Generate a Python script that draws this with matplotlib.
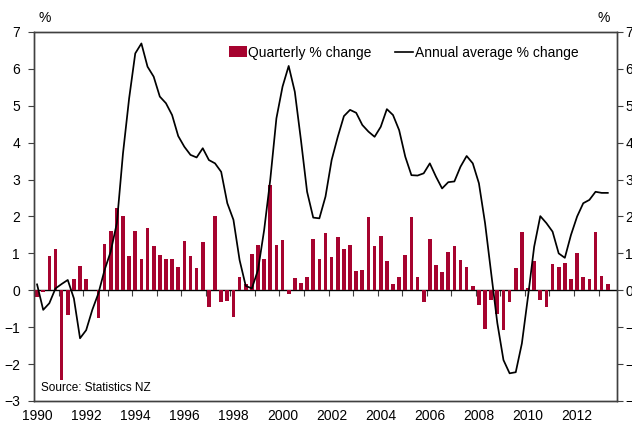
import numpy as np
import matplotlib.pyplot as plt
from matplotlib.patches import Patch
from matplotlib.lines import Line2D

plt.rcParams['font.family'] = ['Liberation Sans', 'DejaVu Sans']

# quarterly data, 1990Q1 .. 2013Q2
quarterly = [-0.17, -0.05, 0.93, 1.12, -2.43, -0.67, 0.31, 0.66, 0.31, 0.0,
             -0.76, 1.25, 1.61, 2.22, 2.01, 0.93, 1.61, 0.84, 1.70, 1.19,
             0.95, 0.84, 0.84, 0.62, 1.34, 0.93, 0.60, 1.31, -0.46, 2.01,
             -0.31, -0.28, -0.72, 0.36, 0.16, 0.98, 1.23, 0.86, 2.85, 1.23,
             1.36, -0.11, 0.34, 0.19, 0.36, 1.39, 0.84, 1.56, 0.89, 1.44,
             1.13, 1.23, 0.52, 0.56, 1.99, 1.19, 1.48, 0.79, 0.16, 0.36,
             0.96, 1.98, 0.37, -0.33, 1.38, 0.69, 0.50, 1.05, 1.20, 0.82,
             0.63, 0.12, -0.39, -1.04, -0.25, -0.64, -1.07, -0.33, 0.61, 1.58,
             0.06, 0.79, -0.26, -0.44, 0.70, 0.63, 0.75, 0.31, 1.00, 0.35,
             0.31, 1.58, 0.39, 0.17]

annual = [0.16, -0.53, -0.35, 0.05, 0.17, 0.28, -0.22, -1.30, -1.08, -0.53,
          -0.08, 0.55, 1.05, 1.82, 3.71, 5.20, 6.42, 6.69, 6.06, 5.79,
          5.25, 5.07, 4.75, 4.18, 3.89, 3.67, 3.60, 3.85, 3.53, 3.44,
          3.21, 2.36, 1.91, 0.82, 0.12, 0.05, 0.55, 1.63, 3.00, 4.66,
          5.52, 6.08, 5.38, 4.07, 2.67, 1.97, 1.95, 2.54, 3.53, 4.16,
          4.72, 4.89, 4.81, 4.48, 4.30, 4.16, 4.43, 4.91, 4.75, 4.34,
          3.62, 3.12, 3.11, 3.17, 3.44, 3.08, 2.76, 2.93, 2.95, 3.35,
          3.64, 3.44, 2.90, 1.82, 0.46, -0.89, -1.89, -2.25, -2.22, -1.44,
          -0.17, 1.18, 2.01, 1.82, 1.59, 1.00, 0.88, 1.50, 2.00, 2.36,
          2.45, 2.67, 2.64, 2.64]

start_year = 1990
year_labels = [str(y) for y in range(1990, 2013, 2)]

bar_color = '#A6032F'
frame_color = '#404040'

x = np.arange(len(quarterly)) + 0.5

fig = plt.figure(figsize=(6.32, 4.21), dpi=100)
ax = fig.add_axes([34 / 632, 1 - 401 / 421, 583 / 632, 369 / 421])

ax.bar(x, quarterly, width=0.6, color=bar_color, zorder=2)
ax.plot(x, annual, color='black', lw=1.25, zorder=3)

ax.set_xlim(0, 95)
ax.set_ylim(-3, 7)
ax.set_yticks(range(-3, 8))
ax.tick_params(axis='y', direction='out', length=4, color=frame_color,
               labelsize=10, pad=6)
for s in ax.spines.values():
    s.set_color(frame_color)
    s.set_linewidth(1.0)

# right-hand scale, sitting closer to the axis
ax2 = ax.twinx()
ax2.set_ylim(-3, 7)
ax2.set_yticks(range(-3, 8))
ax2.tick_params(axis='y', direction='out', length=4, color=frame_color,
                labelsize=10, pad=2)
for s in ax2.spines.values():
    s.set_color(frame_color)
    s.set_linewidth(1.0)

# year labels at the bottom, centred on each Q1
ax.set_xticks([(int(l) - start_year) * 4 + 0.5 for l in year_labels])
ax.set_xticklabels(year_labels, fontsize=10)
ax.tick_params(axis='x', length=0, pad=6)

# zero line carrying the yearly tick marks
zero = ax.secondary_xaxis(0.3)
zero.set_xticks(range(0, 95, 4))
zero.set_xticklabels([])
zero.tick_params(direction='out', length=4, color=frame_color)
zero.spines['bottom'].set_color('black')
zero.spines['bottom'].set_linewidth(1.0)

handles = [Patch(facecolor=bar_color, edgecolor='none'),
           Line2D([0], [0], color='black', lw=1.2)]
ax2.legend(handles, ['Quarterly % change', 'Annual average % change'],
           loc='upper right', bbox_to_anchor=(0.955, 0.997), ncol=2,
           frameon=False, fontsize=10, handlelength=1.3, handleheight=0.8,
           handletextpad=0.1, columnspacing=1.7)

ax.text(0.012, 0.035, 'Source: Statistics NZ', transform=ax.transAxes,
        fontsize=8.5, va='center', ha='left')

fig.text(45 / 632, 1 - 18 / 421, '%', fontsize=10, ha='center', va='center')
fig.text(604 / 632, 1 - 18 / 421, '%', fontsize=10, ha='center', va='center')

fig.savefig('out.png', dpi=100)
